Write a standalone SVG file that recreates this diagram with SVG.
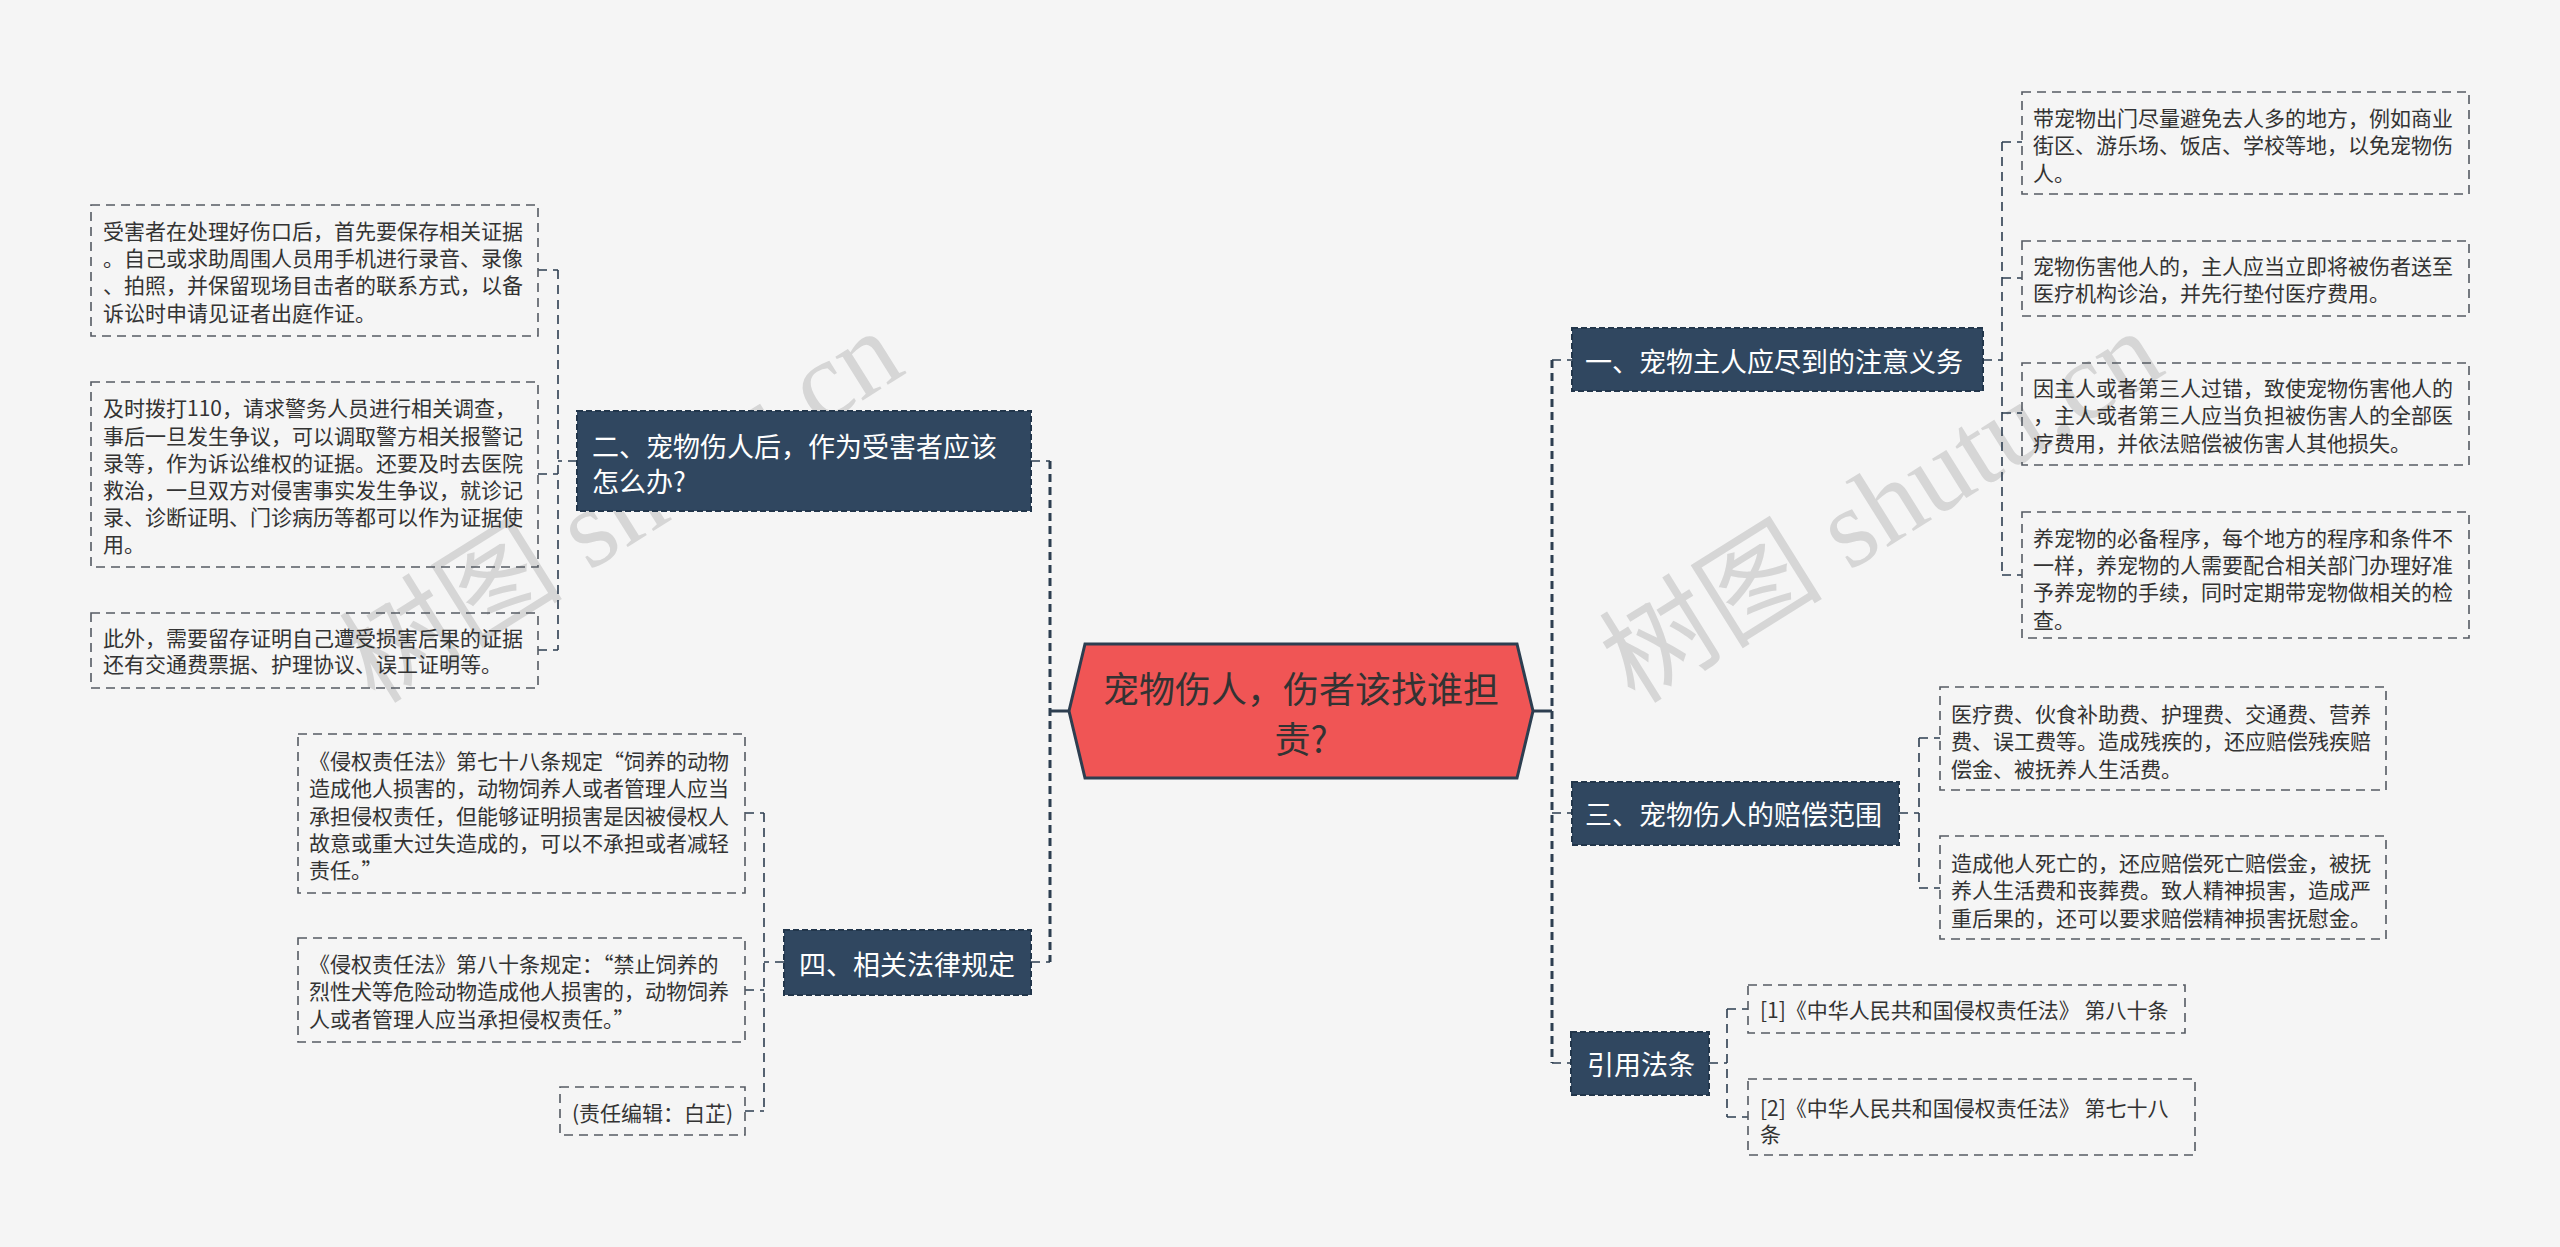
<svg xmlns="http://www.w3.org/2000/svg" width="2560" height="1247" viewBox="0 0 2560 1247">
<style>
.bg{fill:#f5f5f5}
.wm{font-family:"Liberation Serif","Noto Sans CJK SC",serif;font-size:112px;fill:#bdbdbd;opacity:0.55}
.box{fill:none;stroke:#555b63;stroke-width:1.6;stroke-dasharray:9 6}
.bt{font-family:"Noto Sans CJK SC","Noto Sans",sans-serif;font-size:21px;fill:#333333;dominant-baseline:central}
.node{fill:#304760;stroke:#22364b;stroke-width:2;stroke-dasharray:6 3}
.nt{font-family:"Noto Sans CJK SC","Noto Sans",sans-serif;font-size:27px;fill:#ffffff;dominant-baseline:central}
.ct{font-family:"Noto Sans CJK SC","Noto Sans",sans-serif;font-size:36px;fill:#333333;dominant-baseline:central;text-anchor:middle}
.c1{fill:none;stroke:#2d3e50;stroke-width:1.6;stroke-dasharray:9 6}
.c2{fill:none;stroke:#2d3e50;stroke-width:3;stroke-dasharray:8 5}
.cs{fill:none;stroke:#2d3e50;stroke-width:3}
</style>
<rect class="bg" x="0" y="0" width="2560" height="1247"/>
<g id="watermark">
<text class="wm" transform="translate(375,705) rotate(-32)">树图 shutu.cn</text>
<text class="wm" transform="translate(1635,705) rotate(-32)">树图 shutu.cn</text>
</g>
<g id="connectors">
<path class="c2" d="M1050,461 V962"/>
<path class="cs" d="M1050,711 H1069"/>
<path class="c2" d="M1552,360 V1063"/>
<path class="cs" d="M1533,711 H1552"/>
<path class="c1" d="M1031,461 H1050 M1031,962 H1050"/>
<path class="c1" d="M1552,360 H1572 M1552,813 H1572 M1552,1063 H1571"/>
<path class="c1" d="M577,461 H558 M558,270 V650 M538,270 H558 M538,474 H558 M538,650 H558"/>
<path class="c1" d="M784,962 H764 M764,813 V1111 M745,813 H764 M745,990 H764 M745,1111 H764"/>
<path class="c1" d="M1983,360 H2002 M2002,142 V575 M2002,142 H2022 M2002,278 H2022 M2002,413 H2022 M2002,575 H2022"/>
<path class="c1" d="M1899,813 H1919 M1919,738 V888 M1919,738 H1940 M1919,888 H1940"/>
<path class="c1" d="M1709,1063 H1727 M1727,1009 V1117 M1727,1009 H1748 M1727,1117 H1748"/>
</g>
<g id="center">
<polygon points="1069,711 1085,644 1517,644 1533,711 1517,778 1085,778" fill="#f05555" stroke="#2d3e50" stroke-width="3"/>
<text class="ct" x="1301" y="687">宠物伤人，伤者该找谁担</text>
<text class="ct" x="1301" y="737">责?</text>
</g>
<g id="n2">
<rect class="node" x="577" y="411" width="454" height="100"/>
<text class="nt" x="592" y="445">二、宠物伤人后，作为受害者应该</text>
<text class="nt" x="592" y="480">怎么办?</text>
</g>
<g id="n2a">
<rect class="box" x="91" y="205" width="447" height="131"/>
<text class="bt" x="103" y="230">受害者在处理好伤口后，首先要保存相关证据</text>
<text class="bt" x="103" y="257">。自己或求助周围人员用手机进行录音、录像</text>
<text class="bt" x="103" y="284">、拍照，并保留现场目击者的联系方式，以备</text>
<text class="bt" x="103" y="312">诉讼时申请见证者出庭作证。</text>
</g>
<g id="n2b">
<rect class="box" x="91" y="382" width="447" height="185"/>
<text class="bt" x="103" y="407">及时拨打110，请求警务人员进行相关调查，</text>
<text class="bt" x="103" y="435">事后一旦发生争议，可以调取警方相关报警记</text>
<text class="bt" x="103" y="462">录等，作为诉讼维权的证据。还要及时去医院</text>
<text class="bt" x="103" y="489">救治，一旦双方对侵害事实发生争议，就诊记</text>
<text class="bt" x="103" y="516">录、诊断证明、门诊病历等都可以作为证据使</text>
<text class="bt" x="103" y="543">用。</text>
</g>
<g id="n2c">
<rect class="box" x="91" y="613" width="447" height="75"/>
<text class="bt" x="103" y="637">此外，需要留存证明自己遭受损害后果的证据</text>
<text class="bt" x="103" y="663">还有交通费票据、护理协议、误工证明等。</text>
</g>
<g id="n4">
<rect class="node" x="784" y="930" width="247" height="65"/>
<text class="nt" x="799" y="963">四、相关法律规定</text>
</g>
<g id="n4a">
<rect class="box" x="298" y="734" width="447" height="159"/>
<text class="bt" x="309" y="760">《侵权责任法》第七十八条规定“饲养的动物</text>
<text class="bt" x="309" y="787">造成他人损害的，动物饲养人或者管理人应当</text>
<text class="bt" x="309" y="815">承担侵权责任，但能够证明损害是因被侵权人</text>
<text class="bt" x="309" y="842">故意或重大过失造成的，可以不承担或者减轻</text>
<text class="bt" x="309" y="869">责任。”</text>
</g>
<g id="n4b">
<rect class="box" x="298" y="938" width="447" height="104"/>
<text class="bt" x="309" y="963">《侵权责任法》第八十条规定：“禁止饲养的</text>
<text class="bt" x="309" y="990">烈性犬等危险动物造成他人损害的，动物饲养</text>
<text class="bt" x="309" y="1018">人或者管理人应当承担侵权责任。”</text>
</g>
<g id="n4c">
<rect class="box" x="560" y="1087" width="185" height="48"/>
<text class="bt" x="572" y="1112">(责任编辑：白芷)</text>
</g>
<g id="n1">
<rect class="node" x="1572" y="328" width="411" height="63"/>
<text class="nt" x="1585" y="360">一、宠物主人应尽到的注意义务</text>
</g>
<g id="n1a">
<rect class="box" x="2022" y="92" width="447" height="102"/>
<text class="bt" x="2033" y="117">带宠物出门尽量避免去人多的地方，例如商业</text>
<text class="bt" x="2033" y="144">街区、游乐场、饭店、学校等地，以免宠物伤</text>
<text class="bt" x="2033" y="172">人。</text>
</g>
<g id="n1b">
<rect class="box" x="2022" y="241" width="447" height="75"/>
<text class="bt" x="2033" y="265">宠物伤害他人的，主人应当立即将被伤者送至</text>
<text class="bt" x="2033" y="292">医疗机构诊治，并先行垫付医疗费用。</text>
</g>
<g id="n1c">
<rect class="box" x="2022" y="363" width="447" height="102"/>
<text class="bt" x="2033" y="387">因主人或者第三人过错，致使宠物伤害他人的</text>
<text class="bt" x="2033" y="414">，主人或者第三人应当负担被伤害人的全部医</text>
<text class="bt" x="2033" y="442">疗费用，并依法赔偿被伤害人其他损失。</text>
</g>
<g id="n1d">
<rect class="box" x="2022" y="512" width="447" height="126"/>
<text class="bt" x="2033" y="537">养宠物的必备程序，每个地方的程序和条件不</text>
<text class="bt" x="2033" y="564">一样，养宠物的人需要配合相关部门办理好准</text>
<text class="bt" x="2033" y="591">予养宠物的手续，同时定期带宠物做相关的检</text>
<text class="bt" x="2033" y="619">查。</text>
</g>
<g id="n3">
<rect class="node" x="1572" y="782" width="327" height="63"/>
<text class="nt" x="1585" y="813">三、宠物伤人的赔偿范围</text>
</g>
<g id="n3a">
<rect class="box" x="1940" y="687" width="446" height="103"/>
<text class="bt" x="1951" y="713">医疗费、伙食补助费、护理费、交通费、营养</text>
<text class="bt" x="1951" y="740">费、误工费等。造成残疾的，还应赔偿残疾赔</text>
<text class="bt" x="1951" y="768">偿金、被抚养人生活费。</text>
</g>
<g id="n3b">
<rect class="box" x="1940" y="836" width="446" height="103"/>
<text class="bt" x="1951" y="862">造成他人死亡的，还应赔偿死亡赔偿金，被抚</text>
<text class="bt" x="1951" y="889">养人生活费和丧葬费。致人精神损害，造成严</text>
<text class="bt" x="1951" y="917">重后果的，还可以要求赔偿精神损害抚慰金。</text>
</g>
<g id="n5">
<rect class="node" x="1571" y="1032" width="138" height="63"/>
<text class="nt" x="1587" y="1063">引用法条</text>
</g>
<g id="n5a">
<rect class="box" x="1748" y="985" width="437" height="48"/>
<text class="bt" x="1760" y="1009">[1]《中华人民共和国侵权责任法》 第八十条</text>
</g>
<g id="n5b">
<rect class="box" x="1748" y="1079" width="447" height="76"/>
<text class="bt" x="1760" y="1107">[2]《中华人民共和国侵权责任法》 第七十八</text>
<text class="bt" x="1760" y="1133">条</text>
</g>
</svg>
